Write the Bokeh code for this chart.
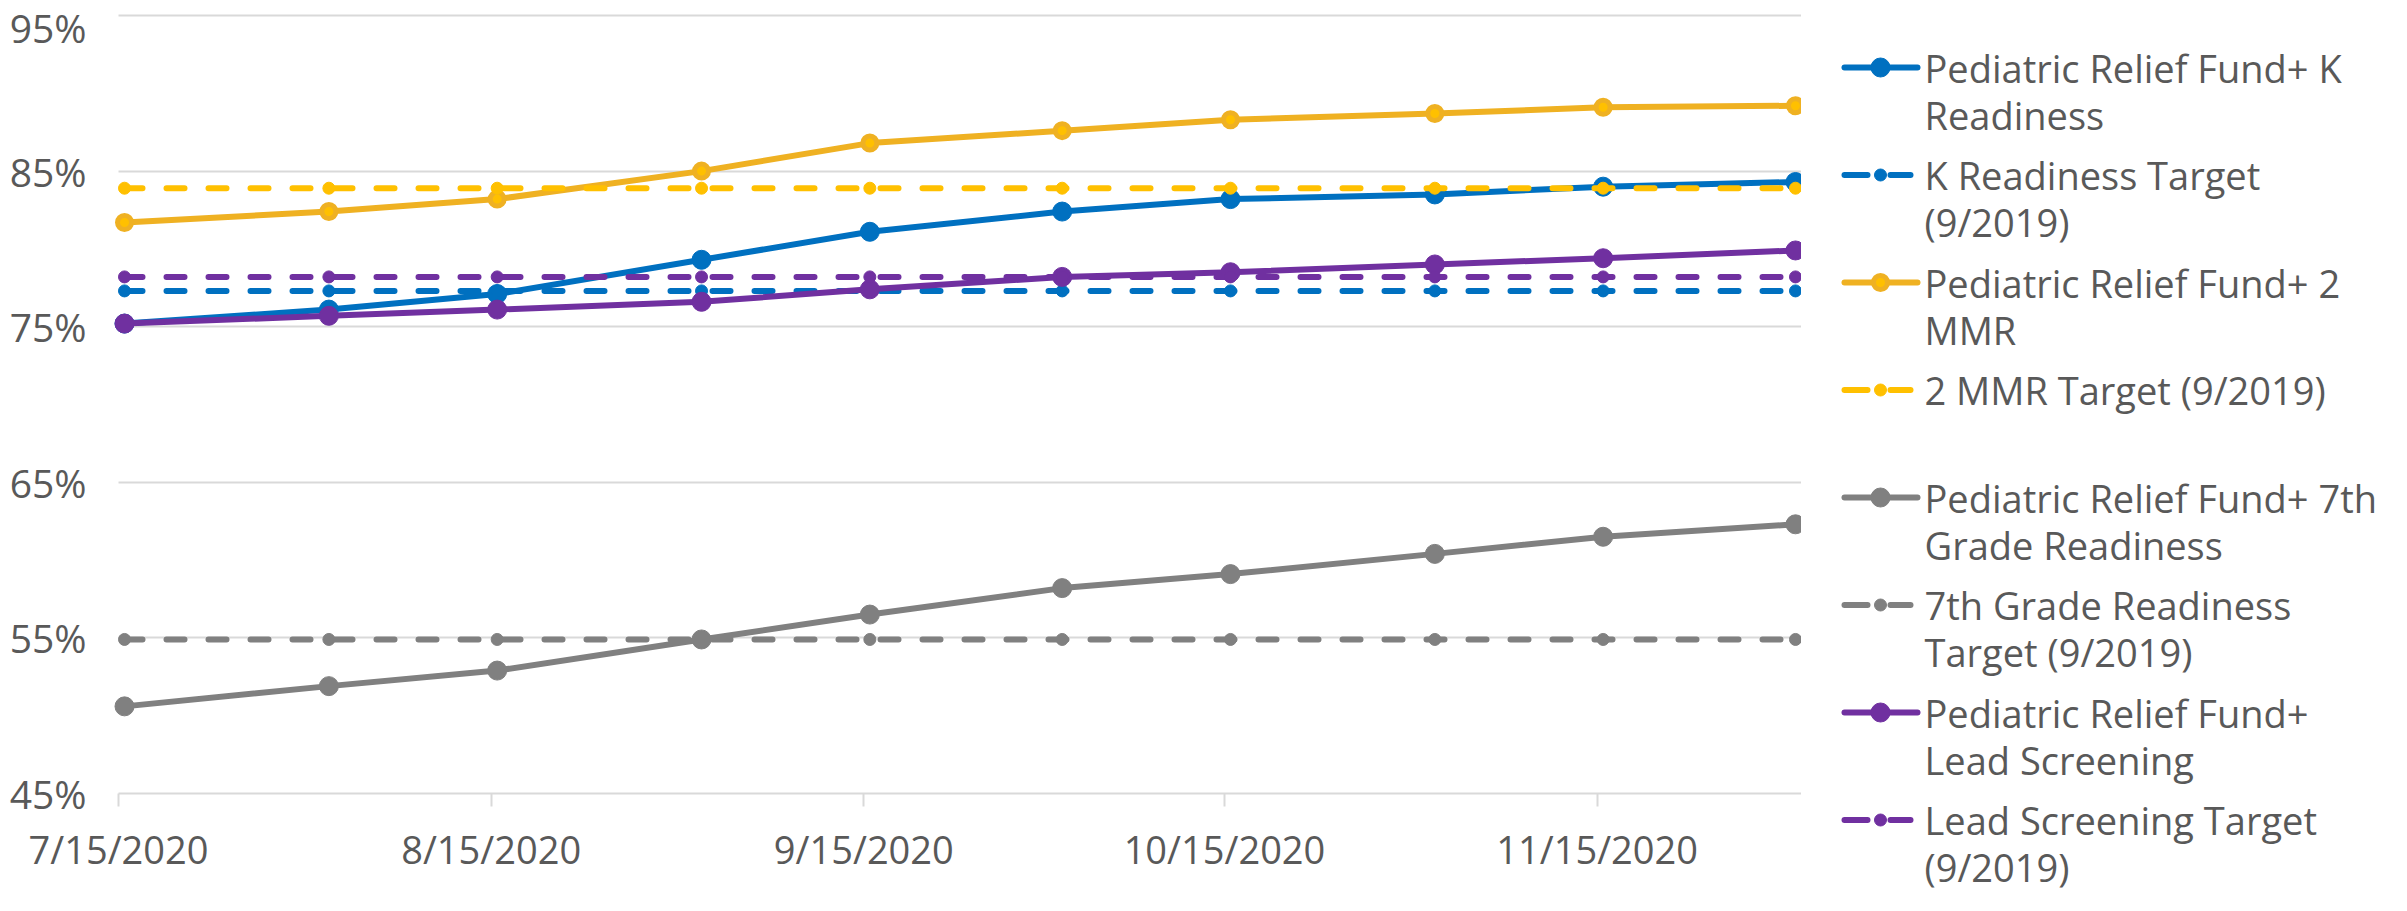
import pandas as pd
from bokeh.plotting import figure
from bokeh.layouts import row
from bokeh.models import Range1d, FixedTicker, ColumnDataSource
from bokeh.core.properties import value
from bokeh.embed import file_html
from bokeh.resources import INLINE

# ---------------- data ----------------
dates = ["7/15/2020", "8/1/2020", "8/15/2020", "9/1/2020", "9/15/2020",
         "10/1/2020", "10/15/2020", "11/1/2020", "11/15/2020", "12/1/2020"]
tick_labels = ["7/15/2020", "8/15/2020", "9/15/2020", "10/15/2020", "11/15/2020"]
y_tick_labels = ["45%", "55%", "65%", "75%", "85%", "95%"]
y_ticks = [45, 55, 65, 75, 85, 95]

k_actual = [75.2, 76.1, 77.1, 79.3, 81.1, 82.4, 83.2, 83.5, 84.0, 84.3]
k_target = [77.3] * 10
mmr_actual = [81.7, 82.4, 83.2, 85.0, 86.8, 87.6, 88.3, 88.7, 89.1, 89.2]
mmr_target = [83.9] * 10
g7_actual = [50.6, 51.9, 52.9, 54.9, 56.5, 58.2, 59.1, 60.4, 61.5, 62.3]
g7_target = [54.9] * 10
lead_actual = [75.2, 75.7, 76.1, 76.6, 77.4, 78.2, 78.5, 79.0, 79.4, 79.9]
lead_target = [78.2] * 10

series_names = [
    ["Pediatric Relief Fund+ K", "Readiness"],
    ["K Readiness Target", "(9/2019)"],
    ["Pediatric Relief Fund+ 2", "MMR"],
    ["2 MMR Target (9/2019)"],
    ["Pediatric Relief Fund+ 7th", "Grade Readiness"],
    ["7th Grade Readiness", "Target (9/2019)"],
    ["Pediatric Relief Fund+", "Lead Screening"],
    ["Lead Screening Target", "(9/2019)"],
]

# ---------------- styles / layout ----------------
FONT = "Open Sans"
FS = "38px"
TXT = "#595959"
GRID = "#D9D9D9"
BLUE, ORANGE, YELLOW, GRAY, PURPLE = "#0070C0", "#EFB122", "#FFC000", "#808080", "#7030A0"

series = [
    (k_actual, BLUE, False),
    (k_target, BLUE, True),
    (mmr_actual, ORANGE, False),
    (mmr_target, YELLOW, True),
    (g7_actual, GRAY, False),
    (g7_target, GRAY, True),
    (lead_actual, PURPLE, False),
    (lead_target, PURPLE, True),
]

d = pd.to_datetime(dates, format="%m/%d/%Y")
x = [(t - d[0]).days for t in d]
td = pd.to_datetime(tick_labels, format="%m/%d/%Y")
tx = [(t - d[0]).days - 0.5 for t in td]
x_lo_data, x_hi_data = x[0] - 0.5, x[-1] + 0.5

W_MAIN = 1801
H = 895
PLOT_LEFT = 118     # canvas x of the plot area's left edge
PLOT_TOP = 15       # canvas y of the 95% line
PLOT_BOTTOM = 793   # canvas y of the 45% axis
ppu = (PLOT_BOTTOM - PLOT_TOP) / (y_ticks[-1] - y_ticks[0])
y_lo = y_ticks[0] - (H - PLOT_BOTTOM) / ppu
y_hi = y_ticks[-1] + PLOT_TOP / ppu
ppd = (W_MAIN - PLOT_LEFT) / (x_hi_data - x_lo_data)
x_lo = x_lo_data - PLOT_LEFT / ppd

p = figure(width=W_MAIN, height=H, output_backend="svg", toolbar_location=None, title=None,
           x_range=Range1d(x_lo, x_hi_data), y_range=Range1d(y_lo, y_hi),
           min_border=0, min_border_left=0, min_border_right=0, min_border_top=0,
           min_border_bottom=0)
p.outline_line_color = None
p.background_fill_color = "white"
p.border_fill_color = "white"
p.xgrid.grid_line_color = None

grid_ok = True
try:
    p.ygrid.cross_bounds = (x_lo_data, x_hi_data)
except Exception:
    grid_ok = False
if grid_ok:
    p.ygrid.grid_line_color = GRID
    p.ygrid.grid_line_width = 2
    p.ygrid.ticker = FixedTicker(ticks=y_ticks[1:])
else:
    p.ygrid.grid_line_color = None
    gy = y_ticks[1:]
    p.segment(x0=[x_lo_data] * len(gy), y0=gy, x1=[x_hi_data] * len(gy), y1=gy,
              line_color=GRID, line_width=2, level="underlay")

p.yaxis.fixed_location = x_lo_data
p.yaxis.ticker = FixedTicker(ticks=y_ticks)
p.yaxis.major_label_overrides = {v: s for v, s in zip(y_ticks, y_tick_labels)}
p.yaxis.axis_line_color = None
p.yaxis.major_tick_line_color = None
p.yaxis.minor_tick_line_color = None
p.yaxis.major_tick_in = 0
p.yaxis.major_tick_out = 0
p.yaxis.major_label_standoff = 32
p.yaxis.major_label_text_font = FONT
p.yaxis.major_label_text_font_size = "39px"
p.yaxis.major_label_text_color = TXT

p.xaxis.fixed_location = y_ticks[0]
p.xaxis.bounds = (x_lo_data, x_hi_data)
p.xaxis.ticker = FixedTicker(ticks=tx)
p.xaxis.major_label_overrides = {v: s for v, s in zip(tx, tick_labels)}
p.xaxis.axis_line_color = GRID
p.xaxis.axis_line_width = 2
p.xaxis.major_tick_line_color = GRID
p.xaxis.major_tick_line_width = 2
p.xaxis.major_tick_in = 0
p.xaxis.major_tick_out = 13
p.xaxis.minor_tick_line_color = None
p.xaxis.major_label_standoff = 16
p.xaxis.major_label_text_font = FONT
p.xaxis.major_label_text_font_size = FS
p.xaxis.major_label_text_color = TXT

DASH = "18 24"
for vals, col, dashed in series:
    src = ColumnDataSource(dict(x=x, y=vals))
    if dashed:
        p.line("x", "y", source=src, line_color=col, line_width=6, line_dash=DASH, line_cap="round")
        p.scatter("x", "y", source=src, size=12, fill_color=col, line_color=col, marker="circle")
    else:
        p.line("x", "y", source=src, line_color=col, line_width=6, line_join="round")
        if col == ORANGE:
            p.scatter("x", "y", source=src, size=14, fill_color=YELLOW, line_color=ORANGE,
                      line_width=5, marker="circle")
        else:
            p.scatter("x", "y", source=src, size=19, fill_color=col, line_color=col, marker="circle")

# ---------------- legend panel ----------------
W_LEG = 2391 - W_MAIN
leg = figure(width=W_LEG, height=H, output_backend="svg", toolbar_location=None, title=None,
             x_range=Range1d(0, W_LEG), y_range=Range1d(H, 0),
             x_axis_location=None, y_axis_location=None,
             min_border=0, min_border_left=0, min_border_right=0, min_border_top=0, min_border_bottom=0)
leg.grid.visible = False
leg.outline_line_color = None
leg.border_fill_color = "white"
leg.background_fill_color = "white"

LEG_TOP, LEG_STEP, LINE_STEP = 67, 107.5, 47
for k, ((vals, col, dashed), names) in enumerate(zip(series, series_names)):
    ey = LEG_TOP + k * LEG_STEP
    if dashed:
        leg.segment(x0=[43, 89], y0=[ey, ey], x1=[66, 109], y1=[ey, ey], line_color=col,
                    line_width=6, line_cap="round")
        leg.scatter(x=[79], y=[ey], size=12, fill_color=col, line_color=col)
    else:
        leg.segment(x0=[43], y0=[ey], x1=[116], y1=[ey], line_color=col, line_width=6, line_cap="round")
        if col == ORANGE:
            leg.scatter(x=[79], y=[ey], size=14, fill_color=YELLOW, line_color=ORANGE, line_width=5)
        else:
            leg.scatter(x=[79], y=[ey], size=19, fill_color=col, line_color=col)
    leg.text(x=[123] * len(names), y=[ey + LINE_STEP * i for i in range(len(names))], text=names,
             text_font=value(FONT), text_font_size=FS, text_color=TXT,
             text_baseline="middle", text_align="left")

layout = row(p, leg, spacing=0)
open("out.html", "w").write(file_html(layout, INLINE))
